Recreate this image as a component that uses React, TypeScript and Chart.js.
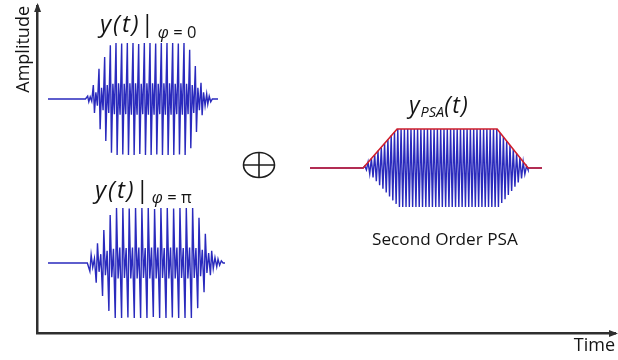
import { useEffect, useRef } from 'react';
import { Chart, registerables } from 'chart.js';

Chart.register(...registerables);

const AXIS_COLOR = '#2f2f2f';
const TEXT_COLOR = '#141414';
const WAVE_BLUE = '#2a2abd';
const ENVELOPE_RED = '#d01f2c';
const FONT = '"Open Sans", "Liberation Sans", sans-serif';

// Burst with phase φ = 0 — record length and first cycle, in carrier cycles
const burstZeroSpan = 30;
const burstZeroStart = 7;
// per-cycle peak of the strong carrier (normalised)
const burstZeroMain = [
  0.05, 0.25, 0.54, 0.75, 0.96,
  1, 0.99, 1, 1, 0.98, 1, 1, 0.99, 1, 1, 1, 0.99, 1,
  0.88, 0.59, 0.29, 0.09,
];
// per-cycle peak of the weaker ripple between carrier spikes
const burstZeroRipple = [
  0.04, 0.12, 0.2, 0.25, 0.27,
  0.28, 0.27, 0.28, 0.28, 0.27, 0.28, 0.28, 0.27, 0.28, 0.28, 0.27, 0.28, 0.27,
  0.25, 0.2, 0.12, 0.05,
];

// Burst with phase φ = π
const burstPiSpan = 27.9;
const burstPiStart = 6.6;
const burstPiMain = [
  0.15, 0.36, 0.6, 0.87,
  1, 1, 0.99, 1, 1, 1, 0.98, 1, 1, 0.99, 1, 1, 1,
  0.82, 0.53, 0.22, 0.07,
];
const burstPiRipple = [
  0.08, 0.16, 0.22, 0.26,
  0.28, 0.27, 0.28, 0.28, 0.27, 0.28, 0.28, 0.27, 0.28, 0.28, 0.27, 0.28, 0.27,
  0.24, 0.18, 0.1, 0.04,
];

// Second-order PSA output: per-cycle peaks and the trapezoidal envelope
const psaSpan = 70.3;
const psaFirstCycle = 16.6;
const psaPeaks = [
  0.05, 0.15, 0.24, 0.34, 0.44, 0.53, 0.63, 0.73, 0.83, 0.92,
  1, 1, 1, 1, 1, 1, 1, 1, 1, 1,
  1, 1, 1, 1, 1, 1, 1, 1, 1, 1,
  1, 1, 1, 1, 1, 1, 1, 1, 1, 1, 1,
  0.9, 0.8, 0.69, 0.59, 0.48, 0.37, 0.27, 0.16, 0.05,
];
const psaEnvelopeTime = [0, 16.1, 26.4, 56.7, 66.1, 70.3];
const psaEnvelopeLevel = [0, 0, 1, 1, 0, 0];

const axisTitleX = 'Time';
const axisTitleY = 'Amplitude';
const psaCaption = 'Second Order PSA';

type Pt = { x: number; y: number };

// One carrier cycle: spike up, spike down, then a small ripple swing.
function burstPoints(span: number, start: number, main: number[], ripple: number[], sign: number): Pt[] {
  const pts: Pt[] = [{ x: 0, y: 0 }, { x: start - 0.4, y: 0 }];
  main.forEach((m, i) => {
    const t = start + i;
    pts.push(
      { x: t, y: sign * m },
      { x: t + 0.2, y: -sign * m },
      { x: t + 0.45, y: sign * ripple[i] },
      { x: t + 0.72, y: -sign * ripple[i] },
    );
  });
  pts.push({ x: start + main.length, y: 0 }, { x: span, y: 0 });
  return pts;
}

function psaPoints(): Pt[] {
  const pts: Pt[] = [{ x: 0, y: 0 }, { x: psaEnvelopeTime[1], y: 0 }];
  psaPeaks.forEach((p, i) => {
    const t = psaFirstCycle + i;
    pts.push({ x: t, y: p }, { x: t + 0.5, y: -p });
  });
  pts.push({ x: psaEnvelopeTime[4], y: 0 }, { x: psaSpan, y: 0 });
  return pts;
}

function envelopePoints(): Pt[] {
  return psaEnvelopeTime.map((t, i) => ({ x: t, y: psaEnvelopeLevel[i] }));
}

type PanelProps = {
  left: number;
  top: number;
  width: number;
  height: number;
  span: number;
  yLimit: number;
  makeDatasets: () => any[];
};

function SignalPanel({ left, top, width, height, span, yLimit, makeDatasets }: PanelProps) {
  const ref = useRef<HTMLCanvasElement>(null);
  useEffect(() => {
    const chart = new Chart(ref.current as HTMLCanvasElement, {
      type: 'line',
      data: { datasets: makeDatasets() },
      options: {
        responsive: false,
        animation: false,
        layout: { padding: 0 },
        scales: {
          x: { type: 'linear', display: false, min: 0, max: span },
          y: { type: 'linear', display: false, min: -yLimit, max: yLimit },
        },
        plugins: { legend: { display: false }, tooltip: { enabled: false } },
        elements: { point: { radius: 0 }, line: { tension: 0 } },
      },
    });
    return () => chart.destroy();
  }, []);
  return (
    <canvas
      ref={ref}
      width={width}
      height={height}
      style={{ position: 'absolute', left, top, width, height }}
    />
  );
}

// Arrowheads on both axes and the summation sign between the bursts and the PSA output
const diagramMarks = {
  id: 'diagramMarks',
  afterDraw(chart: any) {
    const { ctx, chartArea } = chart;
    const { left, right, top, bottom } = chartArea;
    ctx.save();
    ctx.fillStyle = AXIS_COLOR;
    ctx.beginPath();
    ctx.moveTo(left, top - 3);
    ctx.lineTo(left - 3.5, top + 6);
    ctx.lineTo(left + 3.5, top + 6);
    ctx.closePath();
    ctx.fill();
    ctx.beginPath();
    ctx.moveTo(right + 3, bottom);
    ctx.lineTo(right - 6, bottom - 3.5);
    ctx.lineTo(right - 6, bottom + 3.5);
    ctx.closePath();
    ctx.fill();

    ctx.strokeStyle = '#1e1e1e';
    ctx.lineWidth = 1.6;
    ctx.beginPath();
    ctx.ellipse(259, 165, 15.5, 12.5, 0, 0, Math.PI * 2);
    ctx.stroke();
    ctx.beginPath();
    ctx.moveTo(259, 152.5);
    ctx.lineTo(259, 177.5);
    ctx.moveTo(243.5, 165);
    ctx.lineTo(274.5, 165);
    ctx.stroke();
    ctx.restore();
  },
};

function AxesChart() {
  const ref = useRef<HTMLCanvasElement>(null);
  useEffect(() => {
    const chart = new Chart(ref.current as HTMLCanvasElement, {
      type: 'scatter',
      data: { datasets: [] },
      options: {
        responsive: false,
        animation: false,
        layout: { padding: { left: 10, top: 6, right: 3, bottom: 1 } },
        scales: {
          x: {
            type: 'linear',
            min: 0,
            max: 1,
            ticks: { display: false },
            grid: { display: false, drawTicks: false },
            border: { display: true, color: AXIS_COLOR, width: 2.5 },
            title: {
              display: true,
              text: axisTitleX,
              align: 'end',
              color: TEXT_COLOR,
              font: { family: FONT, size: 18 },
              padding: { top: 2, bottom: 2 },
            },
          },
          y: {
            type: 'linear',
            min: 0,
            max: 1,
            ticks: { display: false },
            grid: { display: false, drawTicks: false },
            border: { display: true, color: AXIS_COLOR, width: 2.5 },
            title: {
              display: true,
              text: axisTitleY,
              align: 'end',
              color: TEXT_COLOR,
              font: { family: FONT, size: 18 },
              padding: { top: 3, bottom: 3 },
            },
          },
        },
        plugins: { legend: { display: false }, tooltip: { enabled: false } },
      },
      plugins: [diagramMarks],
    });
    return () => chart.destroy();
  }, []);
  return (
    <canvas
      ref={ref}
      width={618}
      height={360}
      style={{ position: 'absolute', left: 0, top: 0, width: 618, height: 360 }}
    />
  );
}

const blueLine = (data: Pt[]) => ({
  data,
  borderColor: WAVE_BLUE,
  borderWidth: 1.4,
  pointRadius: 0,
  fill: false,
});

export default function App() {
  const textBase: any = {
    position: 'absolute',
    fontFamily: FONT,
    color: TEXT_COLOR,
    lineHeight: 1,
    whiteSpace: 'nowrap',
  };
  return (
    <div
      style={{
        position: 'absolute',
        left: 0,
        top: 0,
        width: 618,
        height: 360,
        background: '#ffffff',
        overflow: 'hidden',
      }}
    >
      <AxesChart />
      <SignalPanel
        left={48}
        top={39}
        width={170}
        height={120}
        span={burstZeroSpan}
        yLimit={1.07}
        makeDatasets={() => [blueLine(burstPoints(burstZeroSpan, burstZeroStart, burstZeroMain, burstZeroRipple, 1))]}
      />
      <SignalPanel
        left={48}
        top={203}
        width={177}
        height={120}
        span={burstPiSpan}
        yLimit={1.09}
        makeDatasets={() => [blueLine(burstPoints(burstPiSpan, burstPiStart, burstPiMain, burstPiRipple, -1))]}
      />
      <SignalPanel
        left={310}
        top={124}
        width={232}
        height={88}
        span={psaSpan}
        yLimit={1.128}
        makeDatasets={() => [
          {
            data: envelopePoints(),
            borderColor: ENVELOPE_RED,
            borderWidth: 1.6,
            pointRadius: 0,
            fill: false,
            order: 0,
          },
          { ...blueLine(psaPoints()), order: 1 },
        ]}
      />

      <div style={{ ...textBase, left: 100, top: 11, fontSize: 24 }}>
        <i style={{ letterSpacing: 2 }}>y(t)</i>
        <span style={{ marginLeft: 0 }}>|</span>
        <span style={{ fontSize: 16.5, position: 'relative', top: 6, marginLeft: 4 }}>
          <i>φ</i> = 0
        </span>
      </div>
      <div style={{ ...textBase, left: 95, top: 177, fontSize: 24 }}>
        <i style={{ letterSpacing: 2 }}>y(t)</i>
        <span style={{ marginLeft: 0 }}>|</span>
        <span style={{ fontSize: 16.5, position: 'relative', top: 5, marginLeft: 3 }}>
          <i>φ</i> = π
        </span>
      </div>
      <div style={{ ...textBase, left: 409, top: 93, fontSize: 23 }}>
        <i>y</i>
        <i style={{ fontSize: 14.5, position: 'relative', top: 4, marginLeft: 1 }}>PSA</i>
        <i style={{ letterSpacing: 1.5 }}>(t)</i>
      </div>
      <div style={{ ...textBase, left: 372, top: 230, fontSize: 17.2 }}>{psaCaption}</div>
    </div>
  );
}
